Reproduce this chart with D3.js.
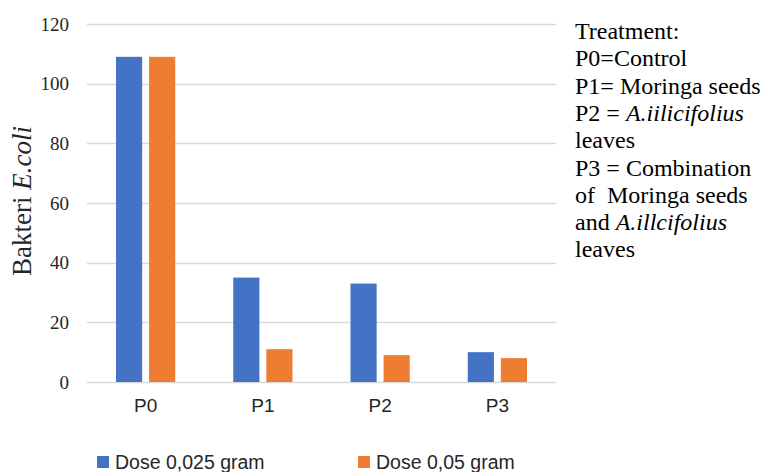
<!DOCTYPE html>
<html>
<head>
<meta charset="utf-8">
<script src="https://cdn.jsdelivr.net/npm/d3@7"></script>
<style>
  body { margin: 0; background: #fff; }
  svg { display: block; }
</style>
</head>
<body>
<div id="chart"></div>
<script>
var categories = ["P0", "P1", "P2", "P3"];
var seriesNames = ["Dose 0,025 gram", "Dose 0,05 gram"];
var dose025 = [109, 35, 33, 10];
var dose005 = [109, 11, 9, 8];
var yTicks = [0, 20, 40, 60, 80, 100, 120];
var colors = ["#4472c4", "#ed7d31"];

var serif = "Liberation Serif, Times New Roman, serif",
    sans = "Liberation Sans, Arial, sans-serif";

var width = 767, height = 472;
var margin = {top: 24, right: 211, bottom: 90, left: 87},
    chartWidth = width - margin.left - margin.right,
    chartHeight = height - margin.top - margin.bottom;

var svg = d3.select("#chart").append("svg")
  .attr("width", width)
  .attr("height", height);

var chart = svg.append("g")
  .attr("transform", "translate(" + margin.left + "," + margin.top + ")");

var x = d3.scaleBand()
  .domain(categories)
  .range([0, chartWidth]);

var x1 = d3.scaleBand()
  .domain(d3.range(seriesNames.length))
  .range([29, x.bandwidth() - 29])
  .paddingInner(0.21);

var y = d3.scaleLinear()
  .domain([0, 120])
  .range([chartHeight, 0]);

// grid
chart.append("g")
  .selectAll("line")
  .data(yTicks)
  .join("line")
  .attr("x1", 0)
  .attr("x2", chartWidth)
  .attr("y1", function(d){ return Math.round(y(d)) + 0.5; })
  .attr("y2", function(d){ return Math.round(y(d)) + 0.5; })
  .attr("stroke", "#d9d9d9")
  .attr("stroke-width", 1.3);

// y labels
chart.append("g")
  .attr("class", "yAxis")
  .call(d3.axisLeft(y).tickValues(yTicks).tickSize(0).tickPadding(18))
  .call(function(g){ g.select(".domain").remove(); })
  .selectAll("text")
  .style("font-family", serif)
  .style("font-size", "19px")
  .attr("fill", "#262626");

// bars
var seriesValues = [dose025, dose005];
seriesValues.forEach(function(vals, si){
  chart.append("g")
    .selectAll("rect")
    .data(vals)
    .join("rect")
    .attr("x", function(d, i){ return x(categories[i]) + x1(si); })
    .attr("width", x1.bandwidth())
    .attr("y", function(d){ return y(d); })
    .attr("height", function(d){ return y(0) - y(d); })
    .attr("fill", colors[si]);
});

// x labels
chart.append("g")
  .attr("class", "xAxis")
  .attr("transform", "translate(0," + chartHeight + ")")
  .call(d3.axisBottom(x).tickSize(0).tickPadding(17))
  .call(function(g){ g.select(".domain").remove(); })
  .selectAll("text")
  .style("font-family", sans)
  .style("font-size", "19px")
  .attr("fill", "#262626");

// y title
var yTitle = svg.append("text")
  .attr("transform", "translate(31,201) rotate(-90)")
  .attr("text-anchor", "middle")
  .style("font-family", serif)
  .style("font-size", "27px")
  .attr("fill", "#262626");
yTitle.append("tspan").text("Bakteri ");
yTitle.append("tspan").style("font-style", "italic").text("E.coli");

// legend
var legendX = [97, 358];
seriesNames.forEach(function(name, i){
  var lg = svg.append("g").attr("transform", "translate(" + legendX[i] + ",456)");
  lg.append("rect").attr("width", 12).attr("height", 12).attr("fill", colors[i]);
  lg.append("text")
    .attr("x", 18)
    .attr("y", 13)
    .style("font-family", sans)
    .style("font-size", "19.5px")
    .attr("fill", "#262626")
    .text(name);
});

// treatment notes
var notes = [
  [["Treatment:", false]],
  [["P0=Control", false]],
  [["P1= Moringa seeds", false]],
  [["P2 = ", false], ["A.iilicifolius", true]],
  [["leaves", false]],
  [["P3 = Combination", false]],
  [["of  Moringa seeds", false]],
  [["and ", false], ["A.illcifolius", true]],
  [["leaves", false]]
];
var noteText = svg.append("text")
  .style("font-family", serif)
  .style("font-size", "24px")
  .style("white-space", "pre")
  .attr("fill", "#000");
notes.forEach(function(line, li){
  line.forEach(function(part, pi){
    var t = noteText.append("tspan").text(part[0]);
    if (pi === 0) t.attr("x", 575).attr("y", 39 + li * 27.3);
    if (part[1]) t.style("font-style", "italic");
  });
});
</script>
</body>
</html>
